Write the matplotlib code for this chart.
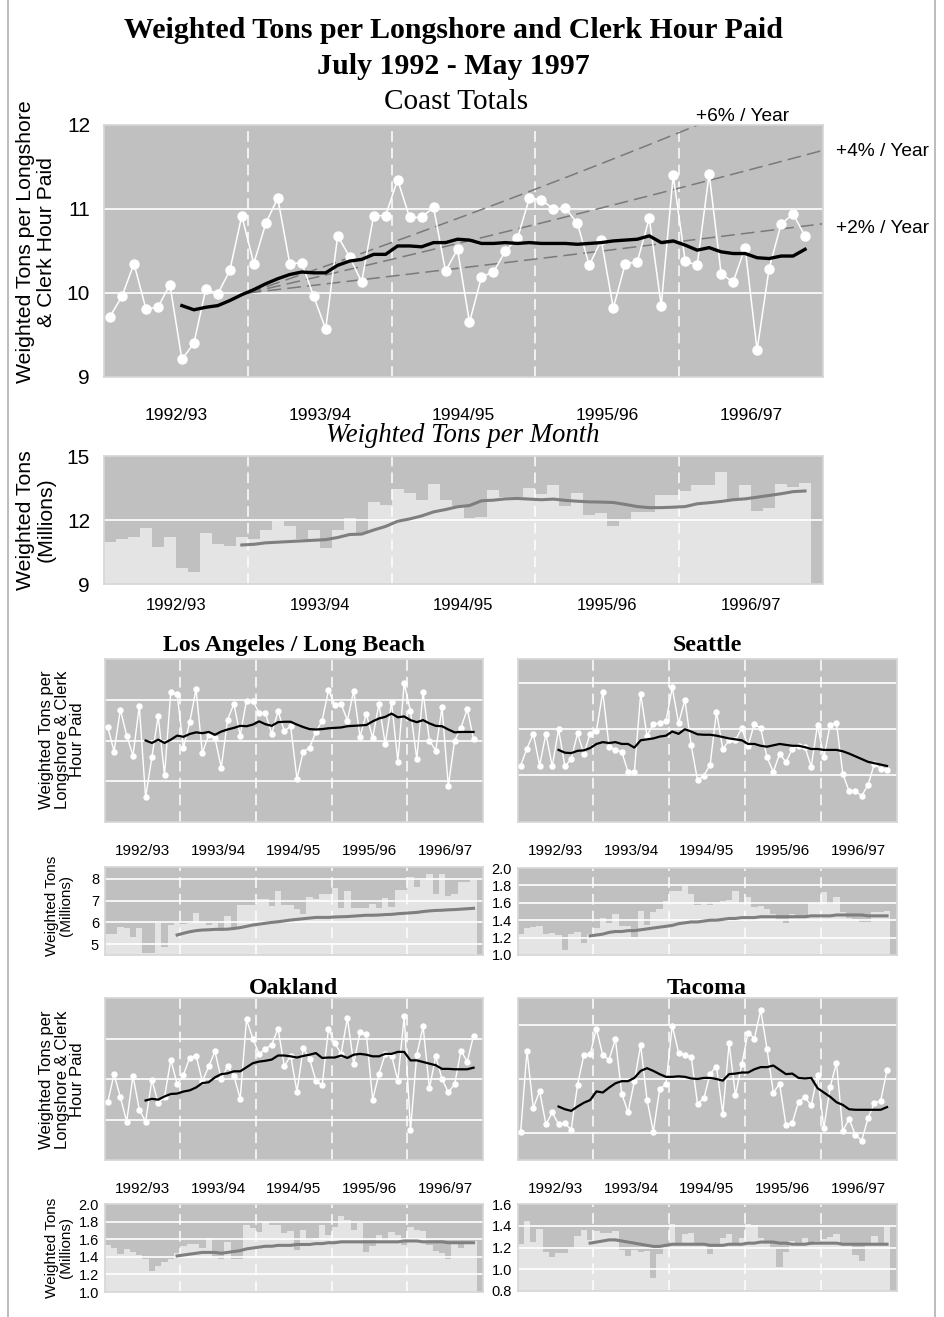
import numpy as np
import matplotlib.pyplot as plt
from matplotlib.lines import Line2D

plt.rcParams['font.family'] = ['Liberation Sans', 'DejaVu Sans']

# ---------------- data (months since July 1992, index 0..59) ----------------
season_labels = ['1992/93', '1993/94', '1994/95', '1995/96', '1996/97']

# Coast totals: weighted tons per longshore & clerk hour paid
coast_rate = [9.72, 9.96, 10.35, 9.81, 9.83, 10.10, 9.21, 9.40, 10.05, 9.99,
              10.27, 10.92, 10.35, 10.83, 11.13, 10.35, 10.36, 9.96, 9.57, 10.68,
              10.43, 10.13, 10.92, 10.92, 11.35, 10.90, 10.90, 11.02, 10.26, 10.52,
              9.65, 10.19, 10.25, 10.50, 10.65, 11.13, 11.11, 11.00, 11.01, 10.83,
              10.33, 10.63, 9.82, 10.35, 10.37, 10.89, 9.85, 11.40, 10.38, 10.33,
              11.42, 10.23, 10.13, 10.54, 9.32, 10.29, 10.82, 10.94, 10.68]
coast_rate_avg_start = 6
coast_rate_avg = [9.85, 9.80, 9.83, 9.85, 9.91, 9.98, 10.04, 10.11, 10.17, 10.22,
                  10.25, 10.24, 10.24, 10.33, 10.38, 10.40, 10.46, 10.46, 10.56, 10.56,
                  10.55, 10.60, 10.60, 10.64, 10.63, 10.59, 10.59, 10.60, 10.59, 10.60,
                  10.59, 10.59, 10.59, 10.58, 10.59, 10.60, 10.62, 10.63, 10.64, 10.68,
                  10.60, 10.62, 10.57, 10.51, 10.54, 10.49, 10.47, 10.47, 10.42, 10.41,
                  10.44, 10.44, 10.52]
growth_rates = [0.02, 0.04, 0.06]
growth_labels = ['+2% / Year', '+4% / Year', '+6% / Year']

# Coast totals: weighted tons per month (millions)
coast_tons = [10.99, 11.10, 11.21, 11.62, 10.74, 11.18, 9.74, 9.55, 11.40, 10.86,
              10.78, 11.21, 11.10, 11.53, 11.95, 11.73, 11.10, 11.53, 10.69, 11.53,
              12.11, 11.37, 12.84, 12.71, 13.44, 13.26, 12.96, 13.69, 12.92, 12.66,
              12.09, 12.14, 13.39, 13.07, 13.10, 13.50, 13.20, 13.63, 12.65, 13.26,
              12.22, 12.33, 11.70, 11.94, 12.38, 12.39, 13.15, 13.15, 13.36, 13.63,
              13.63, 14.23, 12.95, 13.63, 12.41, 12.55, 13.67, 13.55, 13.74, 0]
coast_tons_avg_start = 11
coast_tons_avg = [10.83, 10.86, 10.93, 10.96, 10.99, 11.02, 11.05, 11.08, 11.18, 11.32,
                  11.34, 11.53, 11.70, 11.94, 12.05, 12.19, 12.38, 12.49, 12.62, 12.68,
                  12.90, 12.93, 12.99, 13.01, 12.98, 12.95, 12.98, 12.92, 12.88, 12.85,
                  12.84, 12.82, 12.73, 12.63, 12.58, 12.58, 12.60, 12.63, 12.76, 12.81,
                  12.87, 12.95, 12.99, 13.07, 13.15, 13.23, 13.33, 13.36]

# Ports: productivity (unlabelled scale, grid units)
la_rate = [2.33, 1.73, 2.76, 2.12, 1.63, 2.85, 0.61, 1.59, 2.61, 1.15,
           3.20, 3.14, 1.82, 2.45, 3.26, 1.69, 2.14, 2.06, 1.33, 2.51,
           2.90, 2.12, 2.98, 2.98, 2.67, 2.67, 2.16, 2.72, 2.23, 2.35,
           1.06, 1.73, 1.82, 2.21, 2.49, 3.23, 2.88, 2.90, 2.49, 3.22,
           2.09, 2.66, 2.06, 2.90, 1.91, 2.94, 1.48, 3.41, 2.72, 1.55,
           3.18, 2.00, 1.75, 2.82, 0.88, 2.00, 2.31, 2.77, 2.04]
la_rate_avg = [2.00, 1.94, 2.02, 1.94, 2.02, 2.12, 2.09, 2.16, 2.20, 2.18,
               2.21, 2.14, 2.22, 2.27, 2.31, 2.36, 2.35, 2.39, 2.47, 2.40,
               2.36, 2.45, 2.46, 2.46, 2.39, 2.33, 2.28, 2.27, 2.28, 2.30,
               2.31, 2.32, 2.35, 2.36, 2.37, 2.38, 2.47, 2.54, 2.58, 2.66,
               2.57, 2.59, 2.50, 2.45, 2.50, 2.42, 2.36, 2.35, 2.27, 2.20,
               2.21, 2.21, 2.21]

sea_rate = [1.20, 1.57, 1.89, 1.20, 1.89, 1.18, 1.99, 1.18, 1.34, 1.90,
            1.46, 1.89, 1.96, 2.81, 1.61, 1.54, 1.50, 1.06, 1.06, 2.76,
            1.85, 2.11, 2.12, 2.16, 2.90, 2.12, 2.63, 1.64, 0.88, 0.98,
            1.22, 2.37, 1.56, 1.75, 1.76, 2.01, 1.63, 2.11, 2.01, 1.38,
            1.06, 1.46, 1.27, 1.56, 1.63, 1.61, 1.17, 2.09, 1.38, 2.09,
            2.12, 1.02, 0.64, 0.64, 0.54, 0.78, 1.24, 1.13, 1.11]
sea_rate_avg = [1.54, 1.48, 1.47, 1.52, 1.53, 1.58, 1.67, 1.71, 1.69, 1.71,
                1.67, 1.67, 1.59, 1.75, 1.77, 1.79, 1.83, 1.85, 1.94, 1.89,
                1.99, 1.94, 1.88, 1.87, 1.87, 1.85, 1.82, 1.79, 1.77, 1.75,
                1.67, 1.67, 1.63, 1.61, 1.64, 1.67, 1.65, 1.63, 1.63, 1.60,
                1.56, 1.56, 1.54, 1.54, 1.54, 1.51, 1.46, 1.40, 1.34, 1.28,
                1.25, 1.22, 1.19]

oak_rate = [1.43, 2.12, 1.55, 0.95, 2.08, 1.24, 0.95, 1.98, 1.40, 1.55,
            2.48, 1.87, 2.10, 2.53, 2.58, 1.94, 2.31, 2.68, 2.00, 2.31,
            2.08, 1.51, 3.47, 3.00, 2.62, 2.74, 2.85, 3.24, 2.31, 2.58,
            1.69, 2.76, 2.50, 1.96, 1.84, 3.24, 2.89, 2.62, 3.51, 2.37,
            3.16, 3.11, 1.49, 2.12, 2.62, 2.58, 1.96, 3.55, 0.74, 2.60,
            3.30, 1.77, 2.56, 2.00, 1.67, 1.87, 2.70, 2.43, 3.07]
oak_rate_avg = [1.47, 1.51, 1.49, 1.57, 1.63, 1.64, 1.69, 1.72, 1.79, 1.90,
                1.92, 2.04, 2.12, 2.14, 2.19, 2.19, 2.29, 2.39, 2.43, 2.45,
                2.48, 2.58, 2.58, 2.56, 2.53, 2.57, 2.60, 2.64, 2.52, 2.53,
                2.53, 2.58, 2.52, 2.60, 2.62, 2.60, 2.56, 2.56, 2.62, 2.62,
                2.67, 2.67, 2.46, 2.46, 2.42, 2.38, 2.34, 2.25, 2.25, 2.24,
                2.24, 2.24, 2.28]

tac_rate = [0.52, 2.02, 0.96, 1.28, 0.66, 0.88, 0.66, 0.68, 0.56, 1.39,
            1.94, 1.96, 2.43, 1.94, 1.86, 2.24, 1.23, 0.88, 1.46, 2.13,
            1.12, 0.52, 1.31, 1.40, 2.49, 1.99, 1.94, 1.91, 1.04, 1.14,
            1.60, 1.73, 0.86, 2.16, 1.20, 1.77, 2.36, 2.25, 2.78, 2.06,
            1.25, 1.41, 0.64, 0.69, 1.08, 1.16, 1.01, 1.57, 0.59, 1.35,
            1.80, 0.54, 0.76, 0.46, 0.36, 0.78, 1.05, 1.10, 1.66]
tac_rate_avg = [0.99, 0.94, 0.91, 0.99, 1.06, 1.11, 1.27, 1.25, 1.34, 1.42,
                1.46, 1.46, 1.52, 1.65, 1.70, 1.65, 1.59, 1.54, 1.54, 1.55,
                1.54, 1.51, 1.50, 1.52, 1.52, 1.50, 1.47, 1.59, 1.60, 1.62,
                1.62, 1.68, 1.72, 1.72, 1.75, 1.67, 1.59, 1.60, 1.52, 1.51,
                1.52, 1.33, 1.25, 1.17, 1.07, 1.02, 0.94, 0.93, 0.93, 0.93,
                0.93, 0.93, 0.98]
port_rate_avg_start = 6

# Ports: weighted tons per month (millions)
la_tons = [5.47, 5.47, 5.80, 5.73, 5.34, 5.73, 4.61, 4.61, 5.96, 4.85,
           5.88, 5.96, 5.93, 5.99, 6.45, 6.03, 5.88, 5.99, 5.73, 6.29,
           5.73, 6.80, 6.80, 6.80, 7.06, 7.06, 6.77, 7.45, 6.80, 6.80,
           6.60, 6.37, 7.16, 7.06, 7.31, 7.31, 7.57, 6.65, 7.45, 6.65,
           6.65, 6.65, 6.85, 6.65, 7.11, 6.72, 7.49, 7.49, 8.11, 7.65,
           7.95, 8.23, 7.29, 8.23, 7.22, 7.29, 7.88, 7.88, 7.95, 0]
la_tons_avg = [5.42, 5.50, 5.57, 5.62, 5.65, 5.66, 5.68, 5.68, 5.69, 5.72,
               5.76, 5.82, 5.88, 5.92, 5.96, 6.00, 6.03, 6.07, 6.11, 6.14,
               6.17, 6.20, 6.23, 6.23, 6.23, 6.25, 6.26, 6.27, 6.29, 6.31,
               6.33, 6.33, 6.34, 6.36, 6.37, 6.40, 6.42, 6.44, 6.46, 6.50,
               6.53, 6.55, 6.56, 6.58, 6.59, 6.61, 6.63, 6.65]

sea_tons = [1.24, 1.31, 1.32, 1.33, 1.24, 1.25, 1.23, 1.06, 1.24, 1.26,
            1.14, 1.24, 1.31, 1.43, 1.37, 1.47, 1.33, 1.33, 1.21, 1.51,
            1.35, 1.50, 1.53, 1.62, 1.73, 1.73, 1.79, 1.70, 1.58, 1.60,
            1.58, 1.61, 1.62, 1.63, 1.74, 1.60, 1.67, 1.55, 1.56, 1.53,
            1.47, 1.40, 1.37, 1.47, 1.44, 1.44, 1.60, 1.60, 1.72, 1.59,
            1.67, 1.49, 1.42, 1.41, 1.38, 1.38, 1.50, 1.49, 1.51, 0]
sea_tons_avg = [1.22, 1.23, 1.24, 1.26, 1.27, 1.27, 1.28, 1.28, 1.29, 1.30,
                1.31, 1.32, 1.33, 1.34, 1.36, 1.37, 1.38, 1.38, 1.39, 1.40,
                1.40, 1.41, 1.42, 1.42, 1.43, 1.43, 1.43, 1.44, 1.44, 1.44,
                1.44, 1.44, 1.44, 1.44, 1.44, 1.45, 1.45, 1.45, 1.45, 1.46,
                1.46, 1.46, 1.46, 1.46, 1.45, 1.45, 1.45, 1.45]

oak_tons = [1.53, 1.50, 1.43, 1.49, 1.46, 1.42, 1.38, 1.24, 1.30, 1.34,
            1.38, 1.44, 1.52, 1.55, 1.55, 1.50, 1.61, 1.40, 1.38, 1.57,
            1.38, 1.38, 1.76, 1.73, 1.68, 1.79, 1.76, 1.76, 1.67, 1.69,
            1.48, 1.71, 1.59, 1.61, 1.76, 1.65, 1.74, 1.86, 1.82, 1.71,
            1.78, 1.46, 1.52, 1.65, 1.59, 1.68, 1.65, 1.53, 1.74, 1.71,
            1.69, 1.53, 1.47, 1.44, 1.37, 1.54, 1.50, 1.55, 1.58, 0]
oak_tons_avg = [1.41, 1.42, 1.43, 1.44, 1.45, 1.45, 1.45, 1.44, 1.45, 1.46,
                1.47, 1.49, 1.50, 1.51, 1.52, 1.52, 1.53, 1.53, 1.53, 1.54,
                1.54, 1.54, 1.55, 1.55, 1.56, 1.56, 1.57, 1.57, 1.57, 1.57,
                1.57, 1.57, 1.57, 1.57, 1.57, 1.57, 1.58, 1.58, 1.58, 1.57,
                1.57, 1.57, 1.57, 1.56, 1.56, 1.56, 1.56, 1.56]

tac_tons = [1.23, 1.44, 1.25, 1.37, 1.16, 1.11, 1.15, 1.15, 1.19, 1.31,
            1.36, 1.27, 1.35, 1.33, 1.33, 1.35, 1.18, 1.12, 1.18, 1.16,
            1.17, 0.92, 1.14, 1.19, 1.42, 1.22, 1.32, 1.33, 1.22, 1.22,
            1.14, 1.22, 1.29, 1.32, 1.24, 1.29, 1.42, 1.41, 1.29, 1.24,
            1.19, 1.02, 1.16, 1.26, 1.22, 1.29, 1.22, 1.26, 1.28, 1.30,
            1.32, 1.22, 1.22, 1.13, 1.08, 1.22, 1.31, 1.22, 1.39, 0]
tac_tons_avg = [1.24, 1.25, 1.26, 1.27, 1.27, 1.26, 1.25, 1.24, 1.23, 1.22,
                1.21, 1.21, 1.22, 1.23, 1.23, 1.23, 1.23, 1.23, 1.23, 1.22,
                1.22, 1.22, 1.23, 1.23, 1.23, 1.24, 1.24, 1.25, 1.25, 1.25,
                1.24, 1.24, 1.23, 1.23, 1.23, 1.24, 1.24, 1.24, 1.24, 1.24,
                1.23, 1.23, 1.23, 1.23, 1.23, 1.23, 1.23, 1.23]
port_tons_avg_start = 11

# ---------------- styling ----------------
BG = '#c0c0c0'
BAR = '#e4e4e4'
AVG_GREY = '#7f7f7f'
SPINE = '#d6d6d6'
SERIF = ['Liberation Serif', 'DejaVu Serif']
W, H = 944, 1317

fig = plt.figure(figsize=(W / 100, H / 100), dpi=100)


def rect(x0, y0, x1, y1):
    # pixel box -> figure fraction
    return [x0 / W, 1 - y1 / H, (x1 - x0) / W, (y1 - y0) / H]


def base_axes(r, ylim, grid, label_pad, label_size, show_years=True):
    ax = fig.add_axes(r)
    ax.set_facecolor(BG)
    ax.set_xlim(0, 60)
    ax.set_ylim(*ylim)
    for g in grid:
        ax.axhline(g, color='white', lw=1.2, zorder=2)
    for d in (12, 24, 36, 48):
        ax.axvline(d, color='white', lw=1.1, ls=(0, (7, 4)), zorder=2)
    ax.set_xticks([6, 18, 30, 42, 54])
    ax.set_xticklabels(season_labels if show_years else [''] * 5)
    ax.tick_params(axis='x', length=0, pad=label_pad, labelsize=label_size)
    for s in ax.spines.values():
        s.set_color(SPINE)
        s.set_linewidth(1.2)
    return ax


def rate_panel(r, vals, avg, ylim, grid, ms, lw_avg, label_pad, label_size):
    ax = base_axes(r, ylim, grid, label_pad, label_size)
    x = np.arange(len(vals)) + 0.5
    ax.plot(x, vals, color='white', lw=1, marker='o', ms=ms,
            mfc='white', mec='white', zorder=3)
    xa = np.arange(port_rate_avg_start, port_rate_avg_start + len(avg)) + 0.5
    ax.plot(xa, avg, color='black', lw=lw_avg, zorder=4)
    ax.set_yticks([])
    return ax


def tons_panel(r, vals, avg, avg_start, ylim, ticks, grid, fmt, tsize, show_years=False):
    ax = base_axes(r, ylim, grid, 10, 12, show_years)
    x = np.arange(len(vals)) + 0.5
    ax.bar(x, vals, width=1.0, color=BAR, linewidth=0, zorder=1)
    xa = np.arange(avg_start, avg_start + len(avg)) + 0.5
    ax.plot(xa, avg, color=AVG_GREY, lw=2.2, zorder=4)
    ax.set_yticks(ticks)
    ax.set_yticklabels([fmt.format(t) for t in ticks])
    ax.tick_params(axis='y', length=0, pad=4, labelsize=tsize)
    return ax


# ---------------- titles ----------------
fig.text(453 / W, 1 - 30 / H, 'Weighted Tons per Longshore and Clerk Hour Paid',
         family=SERIF, weight='bold', fontsize=21.5, ha='center', va='center')
fig.text(453 / W, 1 - 66 / H, 'July 1992 - May 1997',
         family=SERIF, weight='bold', fontsize=21.5, ha='center', va='center')
fig.text(456 / W, 1 - 102 / H, 'Coast Totals',
         family=SERIF, fontsize=21, ha='center', va='center')

# ---------------- coast rate chart ----------------
ax = base_axes(rect(104, 125, 823, 377), (9, 12), [10, 11], 22, 12.5)
x = np.arange(len(coast_rate)) + 0.5
for rate, lab in zip(growth_rates, growth_labels):
    xs = np.linspace(12, 60, 200)
    ys = 10 * (1 + rate) ** ((xs - 12) / 12)
    ax.plot(xs, ys, color='#7a7a7a', lw=1.1, ls=(0, (9, 4)), zorder=2.5)
ax.text(49.4, 12.1, growth_labels[2], fontsize=13.8, va='center', ha='left', clip_on=False)
ax.text(61.1, 11.68, growth_labels[1], fontsize=13.8, va='center', ha='left', clip_on=False)
ax.text(61.1, 10.77, growth_labels[0], fontsize=13.8, va='center', ha='left', clip_on=False)
ax.plot(x, coast_rate, color='white', lw=1.1, marker='o', ms=6.5,
        mfc='white', mec='white', zorder=3)
xa = np.arange(coast_rate_avg_start, coast_rate_avg_start + len(coast_rate_avg)) + 0.5
ax.plot(xa, coast_rate_avg, color='black', lw=2.4, zorder=4)
ax.set_yticks([9, 10, 11, 12])
ax.tick_params(axis='y', length=0, pad=10, labelsize=15)
fig.text(36 / W, 1 - 242 / H, 'Weighted Tons per Longshore\n& Clerk Hour Paid',
         rotation=90, fontsize=15.3, ha='center', va='center', linespacing=1.1)

# ---------------- coast tons chart ----------------
fig.text(463 / W, 1 - 435 / H, 'Weighted Tons per Month',
         family=SERIF, style='italic', fontsize=19.3, ha='center', va='center')
ax = tons_panel(rect(104, 456, 823, 584), coast_tons, coast_tons_avg,
                coast_tons_avg_start, (9, 15), [9, 12, 15], [12], '{:.0f}', 15,
                show_years=True)
ax.tick_params(axis='y', pad=10)
fig.text(36 / W, 1 - 520 / H, 'Weighted Tons\n(Millions)',
         rotation=90, fontsize=15.3, ha='center', va='center', linespacing=1.1)

# ---------------- ports ----------------
ports = [
    ('Los Angeles / Long Beach', 104.6, 483, 645, 659, 822, la_rate, la_rate_avg,
     (0, 4), [1, 2, 3], 867, 955, la_tons, la_tons_avg, (4.5, 8.55),
     [5, 6, 7, 8], [5, 6, 7, 8], '{:.0f}'),
    ('Seattle', 517.5, 896.5, 645, 659, 822, sea_rate, sea_rate_avg,
     (-0.03, 3.52), [1, 2, 3], 868, 955, sea_tons, sea_tons_avg, (1.0, 2.0),
     [1.0, 1.2, 1.4, 1.6, 1.8, 2.0], [1.2, 1.4, 1.6, 1.8], '{:.1f}'),
    ('Oakland', 104.6, 483, 988, 998, 1160, oak_rate, oak_rate_avg,
     (0, 4), [1, 2, 3], 1204, 1292, oak_tons, oak_tons_avg, (1.0, 2.0),
     [1.0, 1.2, 1.4, 1.6, 1.8, 2.0], [1.2, 1.4, 1.6, 1.8], '{:.1f}'),
    ('Tacoma', 517.5, 896.5, 988, 998, 1160, tac_rate, tac_rate_avg,
     (0, 3), [0.5, 1.5, 2.5], 1204, 1291, tac_tons, tac_tons_avg, (0.8, 1.6),
     [0.8, 1.0, 1.2, 1.4, 1.6], [1.0, 1.2, 1.4], '{:.1f}'),
]

for (name, x0, x1, ty, ry0, ry1, rv, ravg, rlim, rgrid,
     by0, by1, bv, bavg, blim, bticks, bgrid, bfmt) in ports:
    fig.text((x0 + x1) / 2 / W, 1 - ty / H, name, family=SERIF, weight='bold',
             fontsize=17.2, ha='center', va='center')
    rate_panel(rect(x0, ry0, x1, ry1), rv, ravg, rlim, rgrid, 3.6, 1.6, 16, 11)
    tons_panel(rect(x0, by0, x1, by1), bv, bavg, port_tons_avg_start,
               blim, bticks, bgrid, bfmt, 10.5)

for yc in (740, 1080):
    fig.text(62 / W, 1 - yc / H, 'Weighted Tons per\nLongshore & Clerk\nHour Paid',
             rotation=90, fontsize=12, ha='center', va='center', linespacing=1.05)
for yc in (906, 1248):
    fig.text(59 / W, 1 - yc / H, 'Weighted Tons\n(Millions)',
             rotation=90, fontsize=11, ha='center', va='center', linespacing=0.95)

# page border at the sides
for xb in (8, 935):
    fig.add_artist(Line2D([xb / W, xb / W], [0, 1], color='#b0b0b0', lw=1.2))

fig.savefig('out.png', dpi=100)
